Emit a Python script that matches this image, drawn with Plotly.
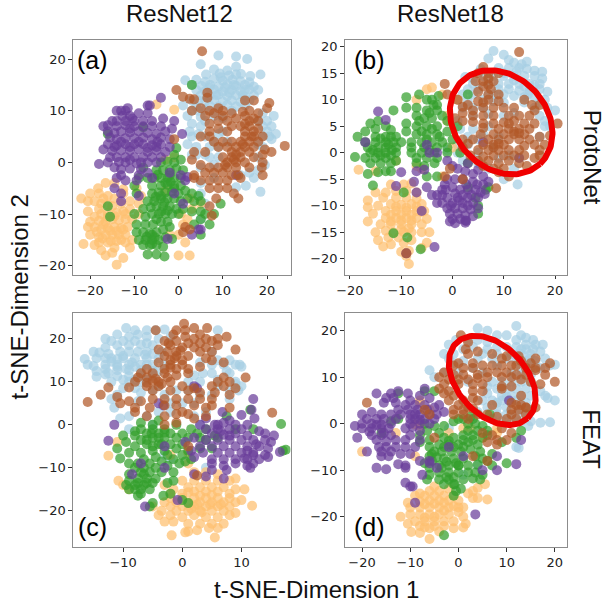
import numpy as np
import plotly.graph_objects as go

# Values: (x, y) per class per panel
A_BLUE = [(9,20.7),(13,20.5),(15.5,20),(5,19),(13,18.5),(8,18),(11,17.8),(6.2,17),(9.3,17.2),(11.4,16.8),(14.1,17.1),(16.2,16.7),(18.5,17),(1.5,15.9),(4,16),(6,15.6),(8,16.2),(10,15.8),(12.2,16),(14,15.7),(16,15.5),(3,15),(5.2,14.8),(7.1,15),(9,14.7),(11,15.1),(13,14.8),(15,15),(17,14.7),(4,14),(6,13.8),(8,14.1),(10,13.7),(12,14),(14,13.8),(16,14.1),(18,14),(5,13),(7,12.8),(9,13.1),(11,12.8),(13,13),(15,12.7),(17,13),(3,12),(6,11.8),(8,12.1),(10,11.8),(12,12),(14,11.7),(16,12),(1,11),(4,10.8),(7,11),(9,10.8),(11,11.1),(13,10.8),(15,11),(3,10),(6,10.2),(12,10),(19,9.5),(21.5,9),(2,9),(5,8.8),(8,9),(10,8.6),(18,8),(20,8),(21,7),(3,7.5),(5,7),(19,7),(22,5.5),(20,6),(3,5),(6,5),(9,5.5),(10,6),(19,5),(21,4.5),(2,3.5),(4,3),(7,3),(9,3),(11,4),(18,3.5),(3,1.5),(6,1.5),(9,1),(18,1),(19.5,-0.5),(8,-0.5),(5,-1),(18,-1.5),(16,-2),(14,-2.5),(17,-3),(15.2,-4.5),(13,-4.8),(18.5,-5.7),(8,-3),(5,-4),(5,-6),(6,-8),(5,-11),(10.5,14.5),(12.5,15),(8.5,13),(11.5,13.5),(14.5,13),(7,14.5),(9.5,16.5),(13,17),(15,14),(6.5,12.5),(4.5,12),(2.5,6),(4.5,5.5),(4,1.5),(20.5,5),(7,1),(8,4),(6,8),(19,3),(4.5,10)]
A_ORANGE = [(-14,-19.8),(-12.5,-18.5),(-16.5,-18),(-15,-17.5),(-17.5,-17),(-21.5,-15.8),(-19,-16),(-14.5,-16.5),(-11,-16.5),(-12,-15.5),(-18,-15.5),(-16,-15.5),(-14,-15.2),(-20,-14),(-18,-14.5),(-16.5,-14),(-15,-14),(-13.5,-14),(-12,-14),(-10.5,-15),(-20.5,-12.5),(-19,-12.5),(-17.5,-13),(-16,-12.7),(-14.5,-12.5),(-13,-12.7),(-11.5,-12.5),(-20,-11.5),(-18,-11.3),(-16.5,-11.5),(-15,-11),(-13.5,-11.2),(-12,-11),(-10.5,-11),(-9,-10),(-20.5,-9.5),(-17.5,-10),(-16,-9.8),(-14,-9.7),(-12.5,-9.5),(-11,-9),(-22,-7),(-20.5,-7.5),(-19,-7.5),(-17.5,-8),(-16,-8.2),(-13,-8),(-11,-7.5),(-9,-8),(-20,-6),(-18,-6),(-16,-6.5),(-14.5,-7),(-12.5,-6),(-18.2,-5),(-16.5,-4),(-14.5,-4),(-12.5,-5.2),(-9.5,-5),(-8.5,-6.5),(0,-18),(2.5,-18),(1.5,-15.5),(0,-14),(1,-12),(0.5,-10),(2,-11),(3,-9),(5,-8),(2.5,-7),(-2,-14),(-3,-5.5),(-1,1),(-3,0.5),(-1,10.2),(-5,11.2),(-17,-12),(-15.5,-13.2),(-14,-13.3),(-12.5,-13),(-17.2,-14.7),(-15.3,-15.2),(-13,-15),(-18.5,-13.4),(-16,-10.6),(-14.5,-10.4),(-18,-9),(-12,-10),(-19,-10.5),(-15,-8.5),(-17,-7)]
A_GREEN = [(-3.2,-18.2),(-7,-17.8),(-5,-17.8),(-3.5,-16.3),(-8,-16),(-6.5,-16),(-5,-16),(-9,-15),(-7.5,-15),(-6,-15),(-4.5,-15),(-3,-14.5),(-1.5,-14.8),(-9.5,-13.5),(-8,-13.5),(-6.5,-13.7),(-5,-13.5),(-3.5,-13),(-2,-12.5),(-9.5,-12),(-7.5,-12),(-5.8,-12),(-4,-11.5),(-2.5,-11.5),(-10,-10),(-7.5,-10.5),(-6,-10),(-4.5,-10),(-3,-10),(-1.5,-10),(0,-10),(-8,-9),(-6.3,-8.7),(-5,-8.5),(-3.5,-8.5),(-2,-8.5),(-0.5,-9),(1,-9),(3,-9.5),(5,-9.5),(6,-10),(-7,-7.5),(-5.5,-7.5),(-4,-7),(-2.5,-7),(-1,-7),(0.5,-7.5),(2,-7),(3.5,-7.5),(5,-7.5),(-6,-6),(-4.5,-5.8),(-3,-5.8),(-1.5,-5.7),(0,-6),(1.5,-5.5),(3,-6),(4.5,-6.5),(-6,-4.5),(-4,-4.5),(-2.5,-4.3),(-1,-4.5),(0.5,-4.5),(-7,-3),(-5.5,-3),(-4,-3),(-2.5,-3),(-1,-3),(0.5,-3),(-9,-3),(-5,-1.5),(-3.5,-1.5),(-2,-1.5),(-0.5,-1.2),(1,-1.5),(-8,-1),(-4,0),(-2.5,0.2),(-1,0),(0.5,0.5),(-1,1.5),(-0.5,2.8),(-9.5,-6),(-16,-8.5),(-15.5,-10.5),(-10,-4.5),(7,-12),(8,-10),(5,-14),(3.5,-12),(5,-11),(9.5,-8),(-8,6.8),(3,15),(-16,5.5),(-6,-14),(-5,-11),(-4,-6.5),(-3,-4),(-1.8,-3.8),(-3.2,-7.7),(-5.2,-6.7),(-2.5,-9.3),(-7.2,-14.4),(-5.4,-14.5),(-3.9,-9.5),(-1,-5),(-2,-2.5),(-4.7,-2.4),(-6,-15.8)]
A_PURPLE = [(-4,12.5),(-7,11),(-6.5,11),(-11.5,10.5),(-12,10),(-13,10),(-11,9),(-14,10),(-9,9.5),(-7,9.5),(-3.5,8.5),(-1,8),(-15,8),(-14,8),(-12,8),(-10,8),(-8,8),(-6,8),(-16,7.2),(-17,7),(-14,7),(-12,7.2),(-10,7),(-8,7),(-6,7),(-4,7),(-1.5,6.5),(-16,6),(-14.5,5.7),(-13,6),(-11,5.8),(-9,6),(-7,5.7),(-5,5.5),(-3,6),(-15.5,4.8),(-14,4.5),(-12,4.7),(-10,4.7),(-8,4.8),(-6,4.5),(-4,4.8),(-2,4.5),(0.8,5.5),(-16,3.5),(-14,3.3),(-12,3.5),(-10,3.5),(-8,3.5),(-6,3.3),(-4,3.5),(-2,3),(-17,2.5),(-15,2.2),(-13,2.3),(-11,2.3),(-9,2.5),(-7,2),(-5,2.3),(-3,2),(-15.5,1),(-14,1),(-12,1),(-10,1),(-8,1),(-6,1),(-4,1),(-16,0),(-13.5,0.1),(-12,0),(-9.5,-0.2),(-7,0),(-5,0),(-18,-0.3),(-14.5,-1),(-13,-1.3),(-11,-1.2),(-8.5,-1.3),(-13,-2.5),(-9,-2.5),(-7,-2),(-6,-3),(-14,-3),(-9.5,-3.5),(-12,-3.5),(-2,-2),(0.5,-2.5),(2,-2.8),(1.5,-3.5),(-14.5,-5),(-13,-6),(-9,-6.5),(-13,-7.5),(-1,-6),(1,-8),(3,-14),(5,-13),(4.5,-13),(-2.5,-14.8),(13,-2.5),(-5,3),(-11,6.5),(-13,4),(-11,3),(-9,4),(-7,2.8),(-12.7,9),(-10.5,8.5),(-14.5,3),(-11,0.5),(-8.5,0),(-4.8,4)]
A_BROWN = [(5.3,21.5),(-0.5,14),(1,12.7),(2.5,12.3),(3.5,12.2),(6.5,13.5),(6.5,12.5),(3,10),(5,10.5),(7,10),(9,10.5),(10,10),(12,9.5),(6,9),(8,9.5),(10,9),(14.5,9.8),(16,10),(18,9.5),(20,10.5),(20.5,11.5),(15,12),(17,12),(11,8),(13,8.5),(15,9),(16,8),(18,8),(9,8),(7,7.5),(12,7),(14,7),(16,7),(18,6.5),(7,6),(9,6.5),(11,6),(15,6),(17,6),(5,5),(7,5),(15,5),(17,5),(19,5),(8,4),(10,4),(12,4),(14,4),(16,4),(18,4),(24,3.2),(9,3),(11,3),(13,3),(15,3),(17,3),(19.5,2.5),(12,2),(14,2),(16,2),(21,2),(3.5,2),(6,2),(10,1),(12,1),(14,1),(17,1),(19,1.5),(3,0.5),(11,0),(13,0),(15,0),(19,0),(5,-0.5),(7,-1),(9,-1),(11,-1),(13,-1),(16,-1),(18.8,-1),(3.5,-2.5),(6,-2),(8,-2),(10,-2),(12,-2.5),(14,-3),(3.5,-3),(5,-3.5),(7,-3.5),(9,-3.5),(11,-3.5),(13.5,-2.5),(19,-2.5),(7,-5),(9,-5),(11,-5),(12.5,-6),(8.5,-7),(13.5,-7),(7,-8.5),(7.5,-10.3),(1.5,-12.5),(1,-13.5),(2.5,-13),(-1,4.5),(15,7.5),(16.5,5),(14.5,3.5),(13,1.5),(12.5,0.5),(17,8.5),(10.5,-0.5)]

B_BLUE = [(8,19.2),(10,18.5),(7,17.8),(11,17.5),(12,17),(13.5,16.7),(14.5,17.2),(5.5,15.8),(9,16),(11,16),(13,16),(14.5,15.8),(16,15.5),(17.5,15.3),(2.5,14.3),(4,14),(6,14.5),(8,14.5),(10,14.5),(12,14.5),(14,14.5),(16,14.5),(17.5,14),(4,13),(7,13),(9,13),(11,13),(13,13),(15,13),(17,13),(3,12),(5,12),(9,12),(11,12),(13,11.7),(15,11.7),(17,12),(18.5,11.5),(2,11),(4,11),(7,11),(10,11),(12,10.7),(14,10.5),(16,10.5),(18,10),(1,10),(3,9.7),(8,9.7),(10,9.5),(14,9.5),(17,9.5),(2,8.5),(4,8.5),(6,8.5),(16,8.5),(18.5,8.5),(20,8),(4,7),(7,7.3),(10,7),(12,7.5),(17,7),(18,6),(19,5),(1.5,4.5),(4,4.5),(7,5),(18,5),(3,3),(5,2.5),(9,3),(17,3),(1,1.5),(3,1.5),(8,1),(-1,0.5),(1,0),(5,0),(9,-1),(13,-1),(2,-1.5),(5,-2),(12,-3),(10,-5),(12.7,-6),(7,-3),(12,13.7),(14,12.5),(16,12.8),(10,15),(12.5,15.3),(8,11),(14.7,11),(6,10),(1,6),(11,-0.5),(6,3.5)]
B_ORANGE = [(-8.5,-21),(-9,-19.5),(-8.5,-18.5),(-6,-18),(-10,-18.7),(-13.5,-17.7),(-12,-17.3),(-9.5,-17),(-14.5,-16.5),(-12.5,-16),(-10.5,-16),(-8,-16.5),(-5,-17),(-15,-15),(-13,-14.7),(-11.5,-15),(-9.5,-15),(-8,-15),(-6,-15),(-4.5,-15),(-14,-13.5),(-12,-13.5),(-10,-13.5),(-8,-13.5),(-6,-13.5),(-16.5,-13),(-13,-12.3),(-11,-12.3),(-9,-12.3),(-7,-12.3),(-5,-12.5),(-15.5,-11.5),(-13,-11),(-11,-11),(-9,-11),(-7,-11),(-5.5,-11),(-16.5,-10.3),(-14.5,-10),(-12,-9.7),(-10,-9.8),(-8,-9.7),(-6,-9.7),(-16.5,-9),(-13.5,-8.5),(-11,-8.5),(-9,-8.5),(-7,-8.7),(-15,-7.5),(-13,-7.5),(-11,-7.2),(-9,-7.2),(-7,-7.5),(-9.5,-6),(-8,-5.8),(-12,-6),(-18.3,-3.2),(-15,-3.5),(-11,-1.5),(-7,-2.5),(-6,-3),(-5,12),(-7,10),(-4,12.3),(-2,11),(-1,7),(-1,6),(1,10),(0,1),(2,-5),(-2,-4.5),(-10,-14.5),(-8.5,-14.3),(-12,-11.7),(-10,-11.7),(-8,-11.7),(-6,-11.2),(-11,-10.2),(-9,-10.4),(-7,-10.2),(-12,-13),(-10,-12.8),(-8,-12.8)]
B_GREEN = [(-19,-0.8),(-18.5,3),(-17,4),(-16,5.5),(-14.5,6),(-15,4.5),(-13,5),(-12,4.3),(-9,8.5),(-7,8.5),(-9,5.5),(-7,7),(-5,8),(-3,9),(-2.7,10.7),(-6.5,11),(-9,10.5),(-5,10),(-4,10),(-3,8),(-5.5,6.5),(-4,6.5),(-2,7),(-7,5),(-5,5),(-3,5),(-1,6),(-15,3),(-13,3),(-11,3),(-9,4),(-7,3.5),(-5,3.5),(-3,3.5),(-1,4),(1,5),(-17,2),(-15,2),(-13,2),(-11.5,2),(-10,2),(-8,2),(-6,2),(-4,2),(-2,2),(0,2.5),(-16.5,1),(-14.5,1),(-13,1),(-11,1),(-8,1),(-5.5,1),(-3,1),(-1,1),(-16,0),(-14.5,0),(-13,0),(-11,0),(-8,0),(-6,0),(-3.5,0),(-1,0),(-17,-1),(-15,-1),(-13,-1),(-11,-1.5),(-7,-1),(-5,-1),(-3,-1),(-16,-2),(-14,-2),(-12,-2),(-7,-2),(-5.5,-2.5),(-3.5,-2),(-16.5,-4),(-14.5,-3.7),(-13,-3.5),(-12,-3.5),(-5,-4.5),(-3,-4.5),(-15.5,-6.2),(-12,3),(-11.5,8),(3,11),(1.5,0),(3,-2),(-9.5,-7.5),(-11.5,-15.2),(-8.8,-16),(-6.2,-18.2),(3,-6.5),(6.5,-7),(5,-10),(5,-11.5),(4.5,-8.5),(7,-6.5),(-14,2.7),(-12.5,1.5),(-15.5,0.5),(-14,-0.5),(-11.8,0.5),(-6,4),(-4,4.5),(-2.5,3),(-5,2.5),(-6.5,6),(-4.5,7.5),(-3.7,9),(-12,-0.5),(-4.5,0.5)]
B_PURPLE = [(-14.5,7.8),(-13,6.2),(-17,2),(-10,-3.7),(-7,-3.5),(-5.5,-3.2),(-7.5,-5.5),(-11,-6.3),(-7,-7.5),(-5,-6.5),(-4,-8),(-3,-9.5),(-2,-7),(-1,-5),(0,-2.5),(1,-3),(2.5,-3.5),(3,-2),(4,-4),(5,-3.2),(6,-4.5),(7,-5.5),(-1.5,-6),(0.5,-5),(2,-5),(4,-5.5),(6,-6),(-2,-8),(0,-6.5),(1.5,-7),(3,-7),(4.5,-7),(5.5,-7.5),(-3,-8),(-1,-8.5),(1,-8.5),(3,-8.5),(5,-8.5),(6.3,-7.8),(-2,-9.5),(0,-9.5),(2,-9.5),(4,-9.5),(-1,-10.5),(0.5,-10.5),(2,-10.5),(3.5,-10.7),(5,-10.5),(-0.5,-11.5),(1,-11.5),(2.5,-11.8),(4,-12),(0,-12.5),(1.5,-12.5),(2.5,-12.8),(-0.5,-13),(0.5,-13.3),(2.7,-12.9),(2.5,-13.2),(-6,-11),(-3.5,-17.8),(-9,-19),(-3,0),(-1,-1.5),(-4.5,0),(6,2),(13,-1),(-5,1.5),(2.7,-6),(0.5,-7.7),(3.7,-8),(1.3,-9),(-1.3,-7),(-0.3,-10),(2,-8),(3,-10),(4.8,-6)]
B_BROWN = [(13,19),(6,16.2),(-1.5,13),(-1,11),(5,15),(7,15),(9,15),(4.5,13.5),(6,13.5),(8,13.5),(6,12.5),(7.5,12),(5,11.5),(7,11),(9,11),(1,10),(3,9),(5,9.7),(7,10),(9,9.7),(14,10),(15.5,9),(17,9),(2,8.7),(4,8),(6,8.5),(8,8.5),(10,8.5),(12,8.5),(16,8),(2,7.5),(4,7),(6,7),(8,7),(11,7),(13,7),(15,7),(0.5,6.5),(2,6),(4,5.8),(6,5.5),(8,5.5),(10,5.7),(12,6),(14,5.5),(16,5.5),(20.5,5.5),(6,4.7),(9,4.5),(11,4.5),(13,4.5),(15,4.5),(5.5,3.5),(8,3.5),(10,3.5),(12,3.5),(14,3.5),(17,3),(19,3.2),(2,2.5),(4,2.5),(7,2.5),(9,2.5),(11,2.5),(13,2.5),(15,2.5),(3,1.7),(6,1.5),(8,1.5),(10,1.5),(14,1.3),(16,1.5),(18,1.5),(2,1),(5,0.5),(7,0.5),(9,0.5),(11,0.5),(13,0.5),(17,0.5),(3.5,-0.5),(6,-0.7),(8,-0.5),(10,-0.5),(12,-0.5),(14,-0.5),(16,-1),(5,-1.5),(7,-1.5),(9,-2),(11,-1.5),(8,-3),(10,-3),(13,-2),(14.5,-2.5),(6,-2.5),(17,-0.5),(-0.5,-3),(9,-3.7),(11,-4.5),(8.5,-6.7),(-1.5,-4.5),(-9,-19),(2,-5),(12,4),(11,5.5),(13,3.7),(8,1),(9,1.7),(7,14),(7,12.8),(6,9.5)]

C_BLUE = [(-9.5,22.5),(-3,22.2),(-4.5,22),(-13,20),(-11,21),(-9,20.5),(-7.5,21),(-6,20.5),(-13,18),(-11,18.5),(-9,18.5),(-7,18.7),(-5,18.5),(-12.5,16.5),(-10.5,17),(-9,17),(-7.5,17),(-6,17),(-16.5,15.3),(-14.5,15.5),(-12,15.5),(-10,15.5),(-8,15.5),(-6,15.5),(-4,15.5),(-16,14),(-15,13.7),(-13,14),(-11,14),(-9,14),(-7,14),(-5,14),(-3,14),(-13,13),(-11,12.7),(-9,12.7),(-7,12.7),(-5,12.5),(-14.5,11.2),(-13,11.7),(-11,11.3),(-9,11.3),(-7,11.5),(-5,11.5),(2,11.5),(3.5,12),(5,12),(-12,10),(-9,10),(-7,9.8),(1,10),(3,10),(6,10.5),(7.5,12.5),(7,14),(8,15),(9,14),(9.7,14),(10,13.5),(8,12),(5,14),(3,14.5),(6,15),(5,17),(6,22),(-10,8.5),(-7,7.5),(-4,9),(-1,8),(1,8),(3,7),(5,7),(9.5,8),(9,9.5),(-11,7),(-7.5,5.5),(-2,5),(-11.5,4),(-9,2),(-6,2),(-5,0),(-10.5,1.5),(-4,3),(-2,3),(2,2),(3,0),(-9,-1),(4,-10),(-3,-7),(-2,-8),(9,10),(4,3),(-10,16),(-8.5,14.5),(-11,13.5),(-9.5,13),(-8,13.5),(-6,14),(-6.3,16.3),(-12,14.7),(-15,17),(-14,16.8),(-12,19.5),(-10,19.5),(-8,19.5),(-6,19),(-4,20),(-2,20.5),(-8,22),(-6,22),(-14.5,12.5),(-12.5,12),(-10,10.5),(-8,8.5),(-6,10.5),(-5,8),(-3,7),(0,5),(2,5),(6,9),(8,8),(8,6),(10,9),(-12,6),(-5,16.5),(-3.5,17),(-4,12.5),(-8,10.5),(-11,15.3),(-13,15.5)]
C_ORANGE = [(-1.8,-25.7),(0.5,-25),(1,-24.8),(5.5,-26.2),(2.5,-24.5),(4.5,-24),(6,-24),(-3,-22.5),(-1.5,-22.5),(1,-23),(3,-23),(5,-23),(7,-23),(-4,-21),(-2,-21),(0,-21.5),(2,-21),(4,-21.5),(6,-21.5),(8,-21),(-3.5,-20),(-1,-20),(1,-20),(3,-20),(5,-20),(7,-20),(9,-20.5),(-5,-19),(-2,-19),(0,-19),(2,-19),(4,-19),(6,-19),(8,-19),(11.8,-18.8),(-3,-18),(-1,-18),(1,-18),(3,-18),(5,-18),(7,-18),(9,-18),(10,-17.5),(-2,-17),(0,-17),(2,-17),(4,-17),(6,-17),(8,-17),(-2,-16),(0,-16),(2,-15.5),(4,-15.5),(6,-15.5),(8,-16),(-1.5,-15),(1,-14.5),(3,-14.5),(5,-14.5),(7,-14.5),(9,-15),(10.5,-15),(0,-13),(2,-13),(4,-13),(6,-13),(8,-13),(9,-12.5),(-9,-15),(-10,-14),(-10.8,-13),(-3,-14),(2,-11),(4,-11),(6,-11.5),(1,-9),(-12.5,-7.2),(-11,-4),(-2,-7),(1,-6.5),(3,-16.5),(5,-16.3),(1,-15.7),(2.5,-18.5),(4.7,-18.5),(6.5,-18.5),(3.3,-20.3),(1.5,-19.5)]
C_GREEN = [(-5.5,-19),(-3.2,-16.5),(-7.5,-16.5),(-9,-15),(-8,-15),(-7,-15),(-5.5,-15),(-9.5,-14),(-8,-14),(-6.5,-14),(-5,-13.5),(-2.5,-13.5),(-9,-13),(-7.5,-12.5),(-6,-12.5),(-4.5,-12.5),(-1.5,-13),(-9,-11.5),(-7,-11),(-5.5,-11),(-3.5,-11),(-1.5,-11),(-8,-10),(-6.5,-10),(-4.5,-10),(-2.5,-9.5),(-0.5,-9),(-7.5,-9),(-5.5,-9),(-3.5,-8.5),(-1.5,-8),(0.5,-8.5),(-9,-9),(-6.5,-8),(-4.5,-7.5),(-2.5,-7),(0,-7),(-9,-6.5),(-7,-6.5),(-5,-6),(-3,-6),(-1,-5.5),(1,-6),(-10.5,-7.8),(-8,-5),(-6,-4.5),(-4,-4.5),(-2,-4.5),(0,-4.5),(-9.5,-4),(-7,-3.5),(-5,-3),(-3,-3),(-1,-3),(1,-3),(-11,-5.5),(-8,-2.5),(-6,-2),(-4,-2),(-2,-2),(0,-2),(2.5,-2),(-7,-1),(-5,-1),(-3,-1),(-1,0),(-8,-1.5),(-7,0.5),(-5,0),(-4,1),(-10,-2.5),(-6,-3.5),(-4,-3),(4,-1),(5.5,-2.5),(4,-3.5),(3,-3),(6,-3),(3,-5.5),(5,-5.5),(1.5,-1),(7.5,2),(9,-1),(11.5,3.5),(12,-1),(16.7,0.2),(17.5,-5.8),(17,-6),(-2,-16),(0,-17.5),(1,-18.2),(-5,-18.2),(1.5,-8),(-7.5,-13.5),(-6,-13.5),(-7,-16),(-6.5,-11.5),(-5,-5),(-3.5,-4.5),(-3,-1.8),(-5.2,-2)]
C_PURPLE = [(12,6),(11.7,3.5),(12.2,1.5),(10,2.3),(8,1),(6.8,3),(4,1.5),(5.5,0),(7,0.5),(9,0),(11,0),(3,0),(4,-1),(6,-1),(8,-1),(10,-1),(13,-1.5),(5,-2),(7,-2.3),(9,-2),(11,-2.5),(14,-2),(15.5,-2.5),(2,-3),(4,-3.5),(6,-3.5),(8,-3.5),(10,-3.5),(12,-3.5),(14,-3.5),(15,-4),(3,-5),(5,-5),(7,-5),(9,-5),(11,-5),(13,-5),(14.5,-5.5),(1.5,-6),(3.5,-6.5),(6,-6.5),(8,-6.5),(10,-6.5),(12,-6.5),(14,-7),(16.5,-6.3),(2,-7.5),(5,-8),(7,-8),(9,-8),(11,-8),(13,-8),(14.5,-7.5),(5,-9),(7,-9.5),(9,-9),(11,-9.5),(12,-9),(5,-10.5),(7.5,-10.5),(11.5,-10),(4,-12),(7,-12.5),(2,-11.5),(-12.5,-3.7),(-11.5,0),(-6.3,-19),(-0.8,-17.5),(-3,-5),(-7,-9),(-8.5,-11.5),(-3,-10),(2,9),(2.5,8.5),(-4,5),(-3.2,4.5),(0.5,-4),(11,-6),(12,-7),(12.5,-4.5),(8,-2.5),(6,0),(6.5,-1.5),(10.5,-7.8)]
C_BROWN = [(0.3,23.5),(2,22.5),(4.2,22.5),(-4.5,22),(-1,22),(0.5,22),(3,21),(6,20),(7.5,20.5),(-1.5,21),(0.5,20.5),(2,20),(4,20),(-3,19.5),(-1,19.5),(1,19),(3,19),(5,19.5),(-2,18.5),(0,18),(2,18),(4,18),(6,18.5),(9,17.5),(-4,17.5),(-2.5,17),(-1,17),(3,17),(5,17),(-3,16),(-1,16),(1,16),(4,15.5),(-2,15),(0,15),(5,15),(7,14.5),(-4,14.5),(-2,14),(0,14),(3,13.5),(-6,13),(-3,13),(-1,13),(1,13),(-7,12),(-5,12),(-3,12),(-1,11.5),(1,12),(-7.5,11),(-6,11),(-4.5,10.7),(-2.5,11),(7,11),(10.7,11),(-8,10),(-6,9.8),(-4,10),(-2,10),(6,10),(8,10),(-9,8.7),(-6,9),(-4,9),(0,9),(2,8.5),(5,9),(7,9),(9,8.5),(-5,8),(-2,8),(1,8),(3,7.5),(5.5,7.5),(8,7),(-12.5,8.7),(-13.8,7),(-11,6.5),(-10.5,5),(-9,5.5),(-7,5.5),(-5,6),(-3,6),(-1,6),(1,6),(3,6),(5,6),(-8,4),(-5.5,4),(-3,4.5),(-1,4.5),(2,4.5),(4,4),(5,4.5),(8,4),(-8,3),(-6,2),(-3,2),(-1,2.5),(1,2.5),(0,3),(4,2),(-3,0),(-1,0.5),(2,1.5),(-16,5.3),(15.2,2.8),(2.5,-11.8),(1,-5),(-1.3,15.5),(-2,13.3),(-5,10.2),(-3.5,9.5),(-0.3,17.3),(-2.3,19)]

D_BLUE = [(12,21),(4,20.5),(6,20),(8,19),(10,19),(13,19),(14,18.5),(-0.5,18),(2,18),(4,18),(6,17.5),(12,18),(15.5,18),(-2,17),(1,16),(3,16.5),(6,16),(8,16.5),(10,16.5),(12,16.5),(14,17),(16,17),(17.5,17),(-3,15),(-1,15),(5,15),(8,15),(11,15),(13,15),(15,15),(17,15.5),(-2,14),(1,13.5),(4,14),(7,14),(10,14),(12,13.5),(14,13.5),(16,13.5),(18,14),(20,12.7),(-1,13),(3,12),(8,12.5),(13,12),(15,12),(17,12),(19,12.5),(-6,11.5),(-3,11),(0,11),(5,11),(11,11),(13,10.5),(15,10.5),(-5,10),(2,9),(7,9),(9,9),(11,9),(13,9),(15,9),(6,8),(8,7.5),(10,7.5),(12,7.5),(14,7.5),(17,7),(18,6),(6,6.5),(9,6),(11,6),(13,6),(15,6),(18.5,5.5),(20,5),(5,5),(7,5),(9,5),(12,5),(14,4.5),(6,3.5),(8,3.5),(10,3.5),(13,3),(15,3),(4,2.5),(8,2),(10,2),(12,2),(14,2),(7,1),(9,0.5),(11,0.5),(13,0.5),(15,0.5),(17,0.2),(19,0.3),(14.5,-0.5),(12,-5),(4,-9),(-2,-1),(1,-11),(12.5,-5.2),(14,16),(15.5,16),(13,16),(12,14.7),(14.7,14),(10,5.7),(8,4.5)]
D_ORANGE = [(-6,-24.8),(-8,-23.5),(-9.8,-23.3),(-4,-23.2),(-1,-22.5),(-10.5,-21.5),(-12,-20),(-8,-22),(-6,-22.5),(-3,-22),(1,-22.3),(1.5,-21.5),(-9,-21),(-7,-21),(-5,-21),(-3,-21),(-1,-21),(1,-20),(-10,-19.5),(-8,-19.5),(-6,-19.5),(-4,-19.5),(-2,-19.5),(0,-19),(-10,-18),(-8,-18),(-6,-18),(-4,-18),(-2,-18),(0,-18),(1,-18),(-10.5,-17),(-8,-16.7),(-6,-16.5),(-4,-16.5),(-2,-16.5),(0,-16.5),(-9,-15.5),(-7,-15.5),(-5,-15.5),(-3,-15.5),(-1,-15.5),(-6,-14.5),(-4,-14.5),(-8,-15),(-2,-14),(-5,-13.5),(2,-15),(3,-14.5),(4,-13.8),(5.5,-13),(3,-16),(4,-16),(6,-16.3),(-8,-0.5),(-9,-0.2),(-13,-2),(-8,4.5),(-6,3),(-8,5),(-2,-2),(1,-1),(5,-3),(8,-2),(-9,-7),(-20,-6),(8,-1),(2.5,-1),(-7,-20.2),(-5,-20),(-3,-18.7),(-7,-17.3),(-5,-17.2),(-3,-17),(-1,-17.7),(-5,-22),(-7,-22.3)]
D_GREEN = [(-3,-24),(-1,-15.5),(-0.5,-14.5),(0.5,-14),(-0.8,-13),(-3,-13),(-1,-13),(1,-12),(-4,-12),(-2,-12),(-6.5,-12),(3,-11.8),(4.5,-12),(5,-11),(-6,-11),(-4,-10.5),(-2,-10.5),(0,-10.5),(2,-10.5),(3.5,-10.5),(-6,-9.5),(-4,-9),(-2,-9),(0,-9),(2,-9),(4,-8.8),(6,-8),(7,-9),(10,-8.5),(-5.5,-8),(-3,-7.5),(-1,-7.5),(1,-7.5),(3.5,-7),(5,-7.5),(-5.5,-6.5),(-3.5,-6),(-1.5,-6),(0.5,-6),(2.5,-5.5),(4.5,-6),(7,-6.5),(-6,-5),(-4,-4.5),(-2,-4.5),(0,-4.5),(2,-4),(4,-4.5),(-8,-4),(-6,-3.5),(-3,-3),(-1,-3),(1,-2.5),(3,-2.5),(5,-3),(-8,-2.5),(-6.5,-1.5),(-4,-2),(2,-1.5),(4,-1.5),(6,-1.5),(-7,0),(-5,-0.5),(-3,-0.5),(2,0),(3.5,0),(5,-0.5),(0,1),(-1,0.5),(1,1),(3,1),(2.5,1.5),(12,-3),(9,-4),(6,-2.5),(-7,7),(-5,7),(-16,-2),(-12.5,6.5),(-14,0.5),(-12.5,1),(6.5,2),(13,-1.5),(-6,-7),(-7,-8.5),(0,-9),(-5,-6),(-4.5,-7.2),(-2.5,-8.2),(-0.5,-8.5),(-3,-5),(-1,-5),(1,-5),(-3.5,-9.5),(-1,-11.5),(-2.5,-11.5),(3,-3.5),(1,-3.5),(-2,-3.7)]
D_PURPLE = [(-17,6.5),(-12.5,7),(-14,6.5),(-15,5.5),(-13.5,5.5),(-10.5,6.5),(-7,7.5),(-8,6),(-10,5),(-6,5.5),(-4,4),(-15.5,4.5),(-13,4.5),(-11,4),(-9,4),(-7,4),(-5,3.5),(-3,2.5),(-12.5,3),(-10.5,3),(-8.5,3),(-6.5,3),(-4.5,2),(-20,2),(-18,2.5),(-16,2),(-14,2),(-12,2),(-10,2),(-8,2),(-6,2),(-19,1),(-17,1),(-15.5,1),(-13,1),(-9,1),(-7,1),(-5,1),(-21.5,-0.5),(-20,0),(-18,0),(-16,-0.2),(-14,0),(-10,0),(-8,0),(-6,0),(-20,-1),(-18,-1),(-16,-1),(-14.5,-1),(-11,-1),(-8,-1.5),(-21,-3),(-18,-2.5),(-16,-2.5),(-14,-2.5),(-10,-2.5),(-17,-3.5),(-15,-3.8),(-13,-3.5),(-11,-3.5),(-8,-3.5),(-15,-5),(-13,-5),(-11,-5),(-9,-5),(-19,-6),(-16,-6),(-14,-6),(-12,-6.5),(-10,-6.5),(-16,-7),(-14.5,-7),(-8,-8),(-6,-8),(-17,-9.5),(-15,-9.8),(-11,-9),(-12.5,-8.7),(-4.5,-9.5),(-11,-9.5),(-6,-8.5),(-2,-5),(1,-7),(8,-10),(5,-10),(12,-8.7),(13,-3.5),(-11,-12.7),(-10,-13.5),(-9.5,-13.5),(-7.5,-11),(3.5,-19.5),(-9,-17),(8,-7),(10.5,5),(-17,-0.3),(-15.5,-2),(-18.5,-1.7),(-10,1),(-9,2),(-8,0.8),(-16.5,-5),(-9.5,-0.7)]
D_BROWN = [(0.5,19),(2,17.5),(1.5,16),(4,15.5),(2,15),(7,15),(9,14),(10,14.5),(12.5,14.5),(13,13.5),(15,13),(16,14),(12,12.5),(19,13),(18,12),(16,12),(0,13),(3,13),(-1,12.5),(1,12),(3,12),(5,12.5),(7,12.5),(9,12.5),(11,12.5),(14,12),(16,11.5),(18,10.5),(20,9),(-3,11),(-1,10.5),(1,10.5),(4,10.5),(6,11),(8,11),(10,11),(12,10.5),(14,10.5),(-4,10),(-2,9.5),(0,9.5),(2,9.5),(4,9.8),(6,10),(9,10),(11,10),(13,9.5),(15,9),(-3,8.5),(0,8.5),(3,8.5),(5,8.5),(9,8),(11,8),(17,8.5),(-4,7.5),(-2,7),(-3,6.5),(-1,6),(3,7),(5,7),(9,7.5),(13,6),(-2,5),(1,5),(3,5.5),(4,5),(11,4.5),(12,4),(13,4),(14,3.5),(0,4),(2,3.5),(-1,3),(1,3),(3,3.3),(7,4),(11,3),(12.5,3),(14,3.5),(16,3.5),(-1,2),(1,2),(4,2),(6,2),(8,1.5),(11,2),(14,2),(2,1),(10,1),(12,1),(-6,2),(-19,4.5),(7,-2.5),(9,-1),(8,-3.5),(6,-4),(11,-2),(10,-3.5),(8,-4.5),(5,-2),(6,-8),(-5,-3),(-7,3),(3,-7)]

PANELS = [
    ("a", [A_BLUE, A_ORANGE, A_GREEN, A_PURPLE, A_BROWN], (-23.9, 25.3), (-21.7, 23.7), [-20, -10, 0, 10, 20], [-20, -10, 0, 10, 20]),
    ("b", [B_BLUE, B_ORANGE, B_GREEN, B_PURPLE, B_BROWN], (-21.0, 22.4), (-23.0, 21.3), [-20, -10, 0, 10, 20], [-20, -15, -10, -5, 0, 5, 10, 15, 20]),
    ("c", [C_BLUE, C_ORANGE, C_GREEN, C_PURPLE, C_BROWN], (-18.5, 18.3), (-28.5, 25.9), [-10, 0, 10], [-20, -10, 0, 10, 20]),
    ("d", [D_BLUE, D_ORANGE, D_GREEN, D_PURPLE, D_BROWN], (-23.6, 22.6), (-26.6, 23.7), [-20, -10, 0, 10, 20], [-20, -10, 0, 10, 20]),
]
CLASS_NAMES = ["class 1", "class 2", "class 3", "class 4", "class 5"]
CLASS_COLORS = ["#a6cee3", "#fdbf6f", "#33a02c", "#6a3d9a", "#b15928"]

W = H = 605
# The page draws the paper 597 px wide, starting 8 px in: map page pixels to paper fractions
def xfrac(px):
    return (px - 8) / 597
BOXES = {"a": (72, 290, 39, 274), "b": (344.3, 567.3, 39, 274), "c": (72, 290, 313, 547.3), "d": (344.3, 567.3, 313, 547.3)}
# ellipse highlight: centre in pixels, semi-axes in pixels, tilt
ELLIPSES = {"b": (501, 121.5, 57, 46, 47), "d": (492, 380, 52, 34.5, 47)}
LETTER_POS = {"a": (92, 59), "b": (369, 59), "c": (92, 527), "d": (369, 527)}

fig = go.Figure()
annotations = []
for i, (name, series, xr, yr, xt, yt) in enumerate(PANELS):
    suffix = "" if i == 0 else str(i + 1)
    x0, x1, y0, y1 = BOXES[name]
    ax = dict(showline=True, linecolor="#8c8c8c", linewidth=1, mirror=True, showgrid=False, zeroline=False,
              ticks="outside", ticklen=3.5, tickwidth=1, tickcolor="#333333",
              tickfont=dict(family="DejaVu Sans", size=13, color="#222222"))
    fig.layout["xaxis" + suffix] = go.layout.XAxis(range=xr, tickvals=xt, domain=[xfrac(x0), xfrac(x1)],
                                                   anchor="y" + suffix, **ax)
    fig.layout["yaxis" + suffix] = go.layout.YAxis(range=yr, tickvals=yt, domain=[1 - y1 / H, 1 - y0 / H],
                                                   anchor="x" + suffix, **ax)
    for cname, color, pts in zip(CLASS_NAMES, CLASS_COLORS, series):
        fig.add_trace(go.Scatter(x=[p[0] for p in pts], y=[p[1] for p in pts], mode="markers", name=cname,
                                 xaxis="x" + suffix, yaxis="y" + suffix, showlegend=False,
                                 marker=dict(size=10, color=color, opacity=0.72, line=dict(width=0))))
    if name in ELLIPSES:
        cx, cy, a, b, tilt = ELLIPSES[name]
        t = np.linspace(0, 2 * np.pi, 181)
        th = np.deg2rad(tilt)
        px = cx + a * np.cos(t) * np.cos(th) - b * np.sin(t) * np.sin(th)
        py = cy + a * np.cos(t) * np.sin(th) + b * np.sin(t) * np.cos(th)
        dx = xr[0] + (px - x0) / (x1 - x0) * (xr[1] - xr[0])
        dy = yr[1] - (py - y0) / (y1 - y0) * (yr[1] - yr[0])
        fig.add_trace(go.Scatter(x=dx, y=dy, mode="lines", showlegend=False, xaxis="x" + suffix, yaxis="y" + suffix,
                                 line=dict(color="#f00000", width=6), hoverinfo="skip"))
    lx, ly = LETTER_POS[name]
    annotations.append(dict(text=f"({name})", x=xfrac(lx), y=1 - ly / H, xref="paper", yref="paper", showarrow=False,
                            xanchor="center", yanchor="middle", font=dict(family="Liberation Sans", size=25, color="black")))

TEXTS = [("ResNet12", 179, 13, 0, 24), ("ResNet18", 450, 13, 0, 24), ("t-SNE-Dimension 1", 316, 589, 0, 24),
         ("t-SNE-Dimension 2", 19, 296, -90, 24), ("ProtoNet", 592, 156, 90, 24), ("FEAT", 592, 439, 90, 24)]
for txt, x, y, rot, sz in TEXTS:
    annotations.append(dict(text=txt, x=xfrac(x), y=1 - y / H, xref="paper", yref="paper", showarrow=False, textangle=rot,
                            xanchor="center", yanchor="middle", font=dict(family="Liberation Sans", size=sz, color="#111111")))

fig.update_layout(width=W, height=H, margin=dict(l=0, r=0, t=0, b=0), paper_bgcolor="white", plot_bgcolor="white",
                  annotations=annotations, showlegend=False, autosize=False)
fig.write_html("out.html", default_width="605px", default_height="605px",
               config={"displayModeBar": False, "responsive": False},
               post_script="document.body.style.margin='0';document.documentElement.style.overflow='hidden';")
